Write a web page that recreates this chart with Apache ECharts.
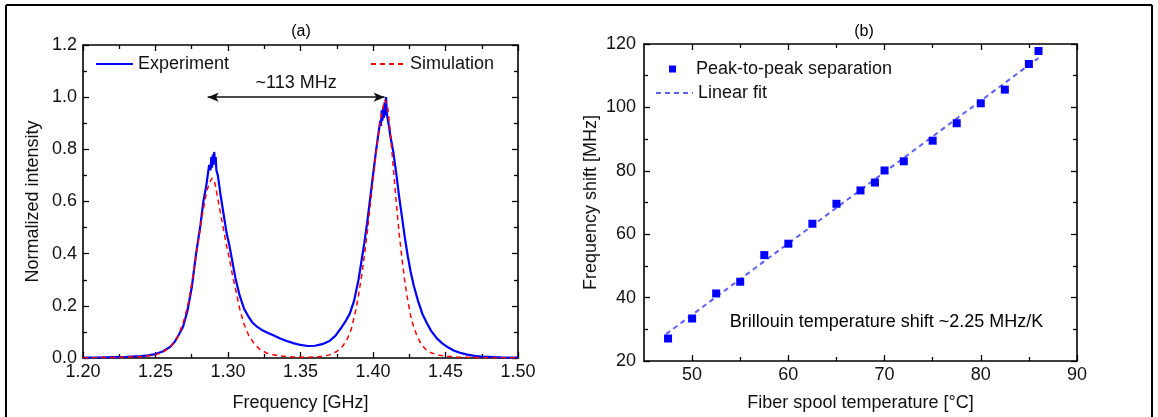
<!DOCTYPE html>
<html><head><meta charset="utf-8">
<script src="https://cdn.jsdelivr.net/npm/echarts@6/dist/echarts.min.js"></script>
<style>html,body{margin:0;padding:0;background:#fff}#c{width:1158px;height:417px}</style>
</head><body><div id="c"></div><script>
// ---------- Panel (a) data ----------
const expFreq = [1.200,1.210,1.220,1.230,1.240,1.245,1.250,1.255,1.260,1.263,1.266,1.269,1.272,1.275,1.278,1.281,1.283,1.285,1.286,1.287,1.288,1.2885,1.289,1.2895,1.290,1.2905,1.291,1.2915,1.292,1.293,1.294,1.295,1.297,1.299,1.301,1.303,1.305,1.308,1.311,1.314,1.317,1.320,1.324,1.328,1.332,1.336,1.340,1.345,1.350,1.355,1.360,1.365,1.370,1.374,1.378,1.381,1.384,1.387,1.390,1.392,1.394,1.396,1.398,1.400,1.402,1.403,1.404,1.405,1.4055,1.406,1.4065,1.407,1.4075,1.408,1.4085,1.409,1.4095,1.410,1.411,1.412,1.414,1.416,1.418,1.420,1.422,1.424,1.426,1.428,1.431,1.434,1.437,1.440,1.444,1.448,1.452,1.456,1.460,1.465,1.470,1.475,1.480,1.490,1.500];
const expInt  = [0.002,0.002,0.003,0.004,0.007,0.010,0.015,0.025,0.042,0.060,0.088,0.12,0.18,0.27,0.40,0.51,0.60,0.66,0.70,0.74,0.72,0.77,0.73,0.78,0.74,0.79,0.75,0.77,0.72,0.70,0.66,0.62,0.55,0.48,0.43,0.37,0.31,0.24,0.19,0.16,0.135,0.12,0.105,0.095,0.085,0.075,0.066,0.057,0.050,0.046,0.047,0.053,0.065,0.085,0.115,0.14,0.17,0.22,0.30,0.37,0.44,0.52,0.61,0.70,0.79,0.83,0.87,0.91,0.89,0.95,0.91,0.96,0.92,0.98,0.93,1.00,0.94,0.92,0.89,0.85,0.79,0.71,0.62,0.54,0.46,0.39,0.33,0.28,0.22,0.17,0.135,0.105,0.075,0.055,0.040,0.028,0.020,0.013,0.008,0.005,0.004,0.002,0.002];
const simFreq = [1.200,1.220,1.240,1.250,1.255,1.260,1.265,1.270,1.273,1.276,1.279,1.282,1.285,1.287,1.289,1.291,1.293,1.295,1.297,1.299,1.301,1.303,1.305,1.308,1.311,1.314,1.318,1.322,1.327,1.335,1.345,1.355,1.365,1.370,1.375,1.379,1.382,1.385,1.388,1.390,1.392,1.394,1.396,1.398,1.400,1.402,1.404,1.406,1.408,1.410,1.412,1.414,1.416,1.418,1.420,1.422,1.424,1.426,1.428,1.430,1.433,1.436,1.440,1.445,1.450,1.460,1.480,1.500];
const simInt  = [0.001,0.002,0.005,0.012,0.022,0.040,0.075,0.15,0.22,0.32,0.43,0.54,0.63,0.67,0.69,0.67,0.61,0.55,0.49,0.43,0.38,0.32,0.27,0.19,0.13,0.09,0.055,0.033,0.018,0.008,0.004,0.003,0.006,0.012,0.025,0.045,0.07,0.11,0.18,0.24,0.31,0.39,0.48,0.58,0.68,0.78,0.87,0.94,0.99,0.97,0.86,0.73,0.60,0.48,0.38,0.29,0.22,0.16,0.12,0.09,0.055,0.035,0.020,0.011,0.007,0.003,0.001,0.001];
const arrowFrom = [1.286, 1.0];
const arrowTo   = [1.408, 1.0];
const arrowText = '~113 MHz';

// ---------- Panel (b) data ----------
const tempC    = [47.5,50.0,52.5,55.0,57.5,60.0,62.5,65.0,67.5,69.0,70.0,72.0,75.0,77.5,80.0,82.5,85.0,86.0];
const shiftMHz = [27.1,33.4,41.3,45.0,53.4,57.0,63.3,69.6,73.8,76.3,80.1,83.0,89.5,95.0,101.3,105.6,113.7,117.8];
const fitTemp  = [47.3, 86.0];
const fitShift = [28.5, 115.6];
const noteText = 'Brillouin temperature shift ~2.25 MHz/K';
const noteAt   = [53.9, 32.4];

const bMajorTicks = [50,60,70,80,90];
const bMinorTicks = [55,65,75,85];

const zip = (a,b) => a.map((v,i)=>[v,b[i]]);
const FONT = '"Liberation Sans", Arial, sans-serif';
const BLACK = '#000';
const txt = (s) => Object.assign({color:'#111', fontSize:18, fontFamily:FONT}, s||{});
const hideSym = {color:'rgba(0,0,0,0)', borderWidth:0, opacity:0};

const chart = echarts.init(document.getElementById('c'));

function valAxis(o){
  const base = {
    type:'value', splitLine:{show:false}, minorSplitLine:{show:false},
    axisLine:{show:true, onZero:false, lineStyle:{color:BLACK, width:1.6}},
    axisTick:{show:true, inside:true, length:6, lineStyle:{color:BLACK, width:1.3}},
    minorTick:{show:false},
    axisLabel:{show:false},
    nameTextStyle: txt()
  };
  return echarts.util.merge(base, o, true);
}

const frame = [
  {type:'line', shape:{x1:6, y1:5, x2:1152, y2:5}, style:{stroke:'#000', lineWidth:2}},
  {type:'line', shape:{x1:6, y1:5, x2:6, y2:417}, style:{stroke:'#000', lineWidth:2}},
  {type:'line', shape:{x1:1152, y1:5, x2:1152, y2:417}, style:{stroke:'#000', lineWidth:2}},
  {type:'text', x:301, y:32, style:Object.assign({text:'(a)', align:'center', verticalAlign:'middle'}, txt({fontSize:16}))},
  {type:'text', x:864, y:32, style:Object.assign({text:'(b)', align:'center', verticalAlign:'middle'}, txt({fontSize:16}))}
];

const option = {
  animation:false,
  backgroundColor:'#fff',
  grid:[
    {left:83, top:45, width:435, height:316},
    {left:644, top:44, width:433, height:317}
  ],
  xAxis:[
    valAxis({gridIndex:0, position:'bottom', min:1.2, max:1.5, interval:0.05,
      minorTick:{show:true, splitNumber:2, length:4, lineStyle:{color:BLACK,width:1.3}},
      axisLabel:Object.assign({show:true, margin:5, formatter:v=>v.toFixed(2), showMinLabel:true, showMaxLabel:true}, txt()),
      name:'Frequency [GHz]', nameLocation:'middle', nameGap:36}),
    valAxis({gridIndex:0, position:'top', min:1.2, max:1.5, interval:0.05,
      minorTick:{show:true, splitNumber:2, length:4, lineStyle:{color:BLACK,width:1.3}}}),
    valAxis({gridIndex:1, position:'bottom', min:45, max:90, interval:5,
      axisTick:{customValues:bMajorTicks},
      axisLabel:Object.assign({show:true, margin:5, customValues:bMajorTicks}, txt()),
      name:'Fiber spool temperature [°C]', nameLocation:'middle', nameGap:33}),
    valAxis({gridIndex:1, position:'top', min:45, max:90, interval:5,
      axisTick:{customValues:bMajorTicks}}),
    valAxis({gridIndex:1, position:'bottom', min:45, max:90, interval:5,
      axisLine:{show:false}, axisTick:{customValues:bMinorTicks, length:4}}),
    valAxis({gridIndex:1, position:'top', min:45, max:90, interval:5,
      axisLine:{show:false}, axisTick:{customValues:bMinorTicks, length:4}})
  ],
  yAxis:[
    valAxis({gridIndex:0, position:'left', min:0, max:1.2, interval:0.2,
      minorTick:{show:true, splitNumber:2, length:4, lineStyle:{color:BLACK,width:1.3}},
      axisLabel:Object.assign({show:true, margin:6, formatter:v=>v.toFixed(1), showMinLabel:true, showMaxLabel:true}, txt()),
      name:'Normalized intensity', nameLocation:'middle', nameGap:41}),
    valAxis({gridIndex:0, position:'right', min:0, max:1.2, interval:0.2,
      minorTick:{show:true, splitNumber:2, length:4, lineStyle:{color:BLACK,width:1.3}}}),
    valAxis({gridIndex:1, position:'left', min:20, max:120, interval:20,
      minorTick:{show:true, splitNumber:2, length:4, lineStyle:{color:BLACK,width:1.3}},
      axisLabel:Object.assign({show:true, margin:8}, txt()),
      name:'Frequency shift [MHz]', nameLocation:'middle', nameGap:44}),
    valAxis({gridIndex:1, position:'right', min:20, max:120, interval:20,
      minorTick:{show:true, splitNumber:2, length:4, lineStyle:{color:BLACK,width:1.3}}})
  ],
  legend:[
    {data:['Experiment'], left:95, top:55, padding:0, itemWidth:37, itemHeight:14, itemGap:5,
      itemStyle:hideSym, textStyle:txt({lineHeight:18})},
    {data:['Simulation'], left:370, top:55, padding:0, itemWidth:34, itemHeight:14,
      itemStyle:hideSym, textStyle:txt({lineHeight:18})},
    {data:['Peak-to-peak separation'], left:669, top:60, padding:0, itemWidth:7, itemHeight:7,
      textStyle:txt({lineHeight:18, padding:[0,0,0,15]})},
    {data:['Linear fit'], left:655, top:84, padding:0, itemWidth:37, itemHeight:14,
      itemStyle:hideSym, textStyle:txt({lineHeight:18})}
  ],
  series:[
    {name:'Experiment', type:'line', xAxisIndex:0, yAxisIndex:0, symbol:'none',
      data:zip(expFreq, expInt), z:3,
      lineStyle:{color:'#0000ff', width:2.2}, itemStyle:{color:'#0000ff'},
      markLine:{silent:true, symbol:['arrow','arrow'], symbolSize:[7,11],
        lineStyle:{color:'#111', width:1.5, type:'solid'},
        label:Object.assign({show:true, position:'insideMiddleTop', distance:5, formatter:arrowText}, txt()),
        data:[[{coord:arrowFrom},{coord:arrowTo}]]}},
    {name:'Simulation', type:'line', xAxisIndex:0, yAxisIndex:0, symbol:'none',
      data:zip(simFreq, simInt), z:4,
      lineStyle:{color:'#ff0000', width:1.5, type:[5,4]}, itemStyle:{color:'#ff0000'}},
    {name:'Peak-to-peak separation', type:'scatter', xAxisIndex:2, yAxisIndex:2,
      symbol:'rect', symbolSize:8, data:zip(tempC, shiftMHz), z:4,
      itemStyle:{color:'#0000ff', opacity:1}},
    {name:'Linear fit', type:'line', xAxisIndex:2, yAxisIndex:2, symbol:'none',
      data:zip(fitTemp, fitShift), z:3,
      lineStyle:{color:'#4d4dff', width:2, type:[5,4], opacity:0.9}, itemStyle:{color:'#4d4dff'}}
  ],
  graphic:frame
};
chart.setOption(option);

const notePx = chart.convertToPixel({xAxisIndex:2, yAxisIndex:2}, noteAt);
chart.setOption({graphic:frame.concat([
  {type:'text', x:notePx[0], y:notePx[1], style:Object.assign({text:noteText, align:'left', verticalAlign:'middle'}, txt())}
])});
</script></body></html>
